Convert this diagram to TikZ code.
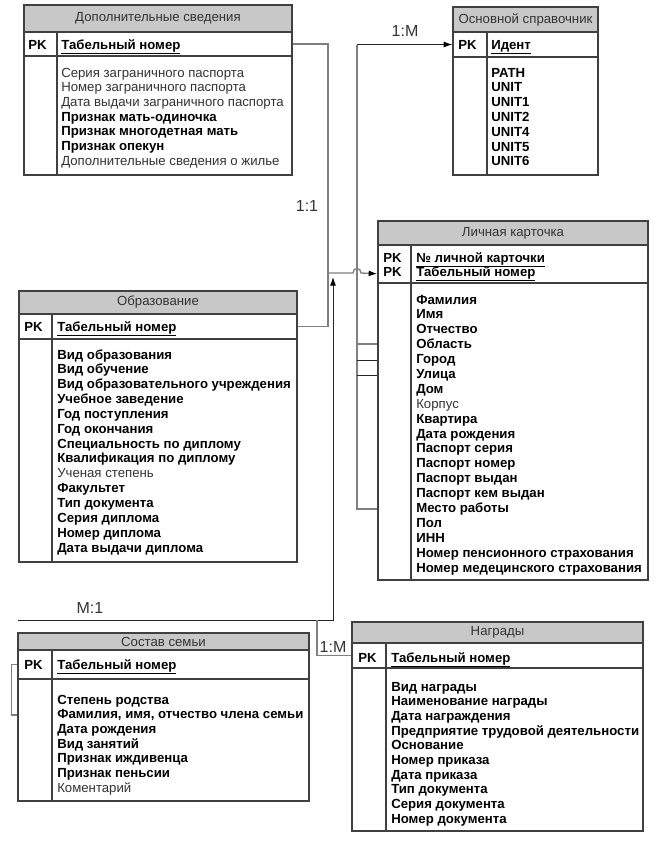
\documentclass[tikz,border=0pt]{standalone}
\usepackage{fontspec}
\setmainfont{Liberation Sans}
\usetikzlibrary{arrows.meta, positioning, fit}
\definecolor{rimGrey}{HTML}{404040}
\definecolor{hdrGrey}{HTML}{C8C8C8}
\definecolor{wireGrey}{HTML}{7F7F7F}
\definecolor{txtGrey}{HTML}{333333}
\newcommand{\erfont}{\fontsize{9.9pt}{11pt}\selectfont}
\newcommand{\lightfld}[1]{\textcolor{txtGrey}{\mdseries #1}}

\begin{document}
\begin{tikzpicture}[x=0.75pt, y=-0.75pt,
   box/.style={draw=rimGrey, line width=1pt, fill=white, inner sep=0pt},
   hdr/.style={box, fill=hdrGrey},
   ttl/.style={font=\erfont, text=txtGrey, inner sep=0pt},
   fld/.style={anchor=base west, inner sep=0pt, font=\erfont\bfseries},
   rel/.style={font=\fontsize{12pt}{14pt}\selectfont, text=txtGrey, inner sep=0pt},
   rim/.style={draw=rimGrey, line width=1pt},
   wire/.style={draw=wireGrey, line width=1pt},
   ink/.style={draw=black!85, line width=0.75pt},
   tip/.style={-{Latex[length=6.5pt, width=4.5pt, color=black]}}]
\useasboundingbox (0,0) rectangle (661,853);

% Дополнительные сведения
\node[box, fit={(24,5) (292,175)}] (dop) {};
\node[hdr, fit={(24,5) (292,32)}] (dopHd) {};
\node[ttl] (dopT) at (dopHd) {Дополнительные сведения};
\node[box, fit={(24,32) (292,56)}] (dopKey) {};
\draw[rim] (57,32) -- (57,175);
\node[fld] (dopPK) at (28,49) {PK};
\node[fld] (dopK1) at (61,49) {\underline{Табельный номер}};
\foreach [count=\i] \t in {\lightfld{Серия заграничного паспорта},
    \lightfld{Номер заграничного паспорта}, \lightfld{Дата выдачи заграничного паспорта},
    Признак мать-одиночка, Признак многодетная мать, Признак опекун,
    \lightfld{Дополнительные сведения о жилье}}
  \node[fld] (dop-\i) at (61,{77+14.7*(\i-1)}) {\t};

% Основной справочник
\node[box, fit={(453,7) (598,175)}] (ref) {};
\node[hdr, fit={(453,7) (598,32)}] (refHd) {};
\node[ttl] (refT) at (refHd) {Основной справочник};
\node[box, fit={(453,32) (598,57)}] (refKey) {};
\draw[rim] (487,32) -- (487,175);
\node[fld] (refPK) at (458,49) {PK};
\node[fld] (refK1) at (491,49) {\underline{Идент}};
\foreach [count=\i] \t in {PATH, UNIT, UNIT1, UNIT2, UNIT4, UNIT5, UNIT6}
  \node[fld] (ref-\i) at (491,{77+14.8*(\i-1)}) {\t};

% Личная карточка
\node[box, fit={(378,221) (648,580)}] (lk) {};
\node[hdr, fit={(378,221) (648,245)}] (lkHd) {};
\node[ttl] (lkT) at (lkHd) {Личная карточка};
\node[box, fit={(378,245) (648,283)}] (lkKey) {};
\draw[rim] (411,245) -- (411,580);
\node[fld] (lkPK1) at (383,262) {PK};
\node[fld] (lkPK2) at (383,276) {PK};
\node[fld] (lkK1) at (416,262) {\underline{№ личной карточки}};
\node[fld] (lkK2) at (416,276) {\underline{Табельный номер}};
\foreach [count=\i] \t in {Фамилия, Имя, Отчество, Область, Город, Улица, Дом,
    \lightfld{Корпус}, Квартира, Дата рождения, Паспорт серия, Паспорт номер,
    Паспорт выдан, Паспорт кем выдан, Место работы, Пол, ИНН,
    Номер пенсионного страхования, Номер медецинского страхования}
  \node[fld] (lk-\i) at (416,{304+14.89*(\i-1)}) {\t};

% Образование
\node[box, fit={(19,291) (297,562)}] (edu) {};
\node[hdr, fit={(19,291) (297,314)}] (eduHd) {};
\node[ttl] (eduT) at (eduHd) {Образование};
\node[box, fit={(19,314) (297,339)}] (eduKey) {};
\draw[rim] (52,314) -- (52,562);
\node[fld] (eduPK) at (24,331) {PK};
\node[fld] (eduK1) at (57,331) {\underline{Табельный номер}};
\foreach [count=\i] \t in {Вид образования, Вид обучение,
    Вид образовательного учреждения, Учебное заведение, Год поступления,
    Год окончания, Специальность по диплому, Квалификация по диплому,
    \lightfld{Ученая степень}, Факультет, Тип документа, Серия диплома,
    Номер диплома, Дата выдачи диплома}
  \node[fld] (edu-\i) at (57,{359+14.85*(\i-1)}) {\t};

% Состав семьи
\node[box, fit={(18,633) (309,801)}] (fam) {};
\node[hdr, fit={(18,633) (309,650)}] (famHd) {};
\node[ttl] (famT) at (famHd) {Состав семьи};
\node[box, fit={(18,650) (309,679)}] (famKey) {};
\draw[rim] (52,650) -- (52,801);
\node[fld] (famPK) at (24,669) {PK};
\node[fld] (famK1) at (57,669) {\underline{Табельный номер}};
\foreach [count=\i] \t in {Степень родства, {Фамилия, имя, отчество члена семьи},
    Дата рождения, Вид занятий, Признак иждивенца, Признак пеньсии,
    \lightfld{Коментарий}}
  \node[fld] (fam-\i) at (57,{704+14.67*(\i-1)}) {\t};

% Награды
\node[box, fit={(352,622) (643,831)}] (awd) {};
\node[hdr, fit={(352,622) (643,643)}] (awdHd) {};
\node[ttl] (awdT) at (awdHd) {Награды};
\node[box, fit={(352,643) (643,668)}] (awdKey) {};
\draw[rim] (386,643) -- (386,831);
\node[fld] (awdPK) at (358,662) {PK};
\node[fld] (awdK1) at (391,662) {\underline{Табельный номер}};
\foreach [count=\i] \t in {Вид награды, Наименование награды, Дата награждения,
    Предприятие трудовой деятельности, Основание, Номер приказа, Дата приказа,
    Тип документа, Серия документа, Номер документа}
  \node[fld] (awd-\i) at (391,{691+14.67*(\i-1)}) {\t};

% связи
\coordinate (hub) at (328,273);
\coordinate (spineTop) at (357,44.5);
\coordinate (upTip) at (333,277);
\coordinate (famEnd) at (18,620);
\coordinate (awdFork) at (317,620);

\draw[wire] (dopKey.east) -| (hub);
\draw[wire] (eduKey.east) -| (hub);
\draw[wire, tip] (hub) -- (353,273) .. controls (353,267) and (361,267) .. (361,273)
  -- (lk.west |- lkK2);
\draw[wire] (lk.west |- lk-15) -| (spineTop);
\draw[ink, tip] (spineTop) -- (refKey.west);
\draw[wire] (lk-4.west -| spineTop) -- (lk.west |- lk-4);
\foreach \r in {5,6}
  \draw[ink] (lk-\r.west -| spineTop) -- (lk.west |- lk-\r);
\draw[ink, tip] (famEnd) -| (upTip);
\draw[wire] (awdFork) |- (awdKey.west);
\draw[wire] (famKey.west) -- ++(-6,0) |- (fam.west |- fam-2);

\node[rel] (r11) at (307,206) {1:1};
\node[rel] (rRef) at (405,31) {1:M};
\node[rel] (rFam) at (90,608) {M:1};
\node[rel] (rAwd) at (333,647) {1:M};
\end{tikzpicture}
\end{document}
